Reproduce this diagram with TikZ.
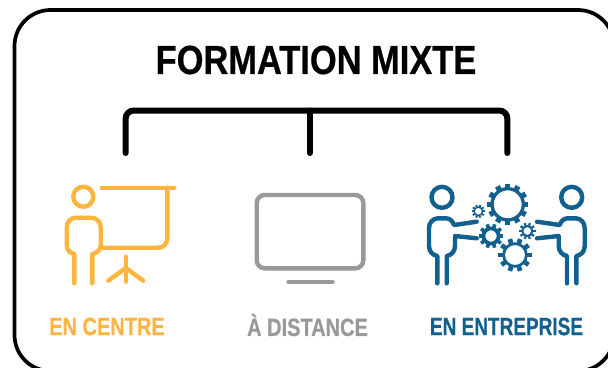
\documentclass[tikz,border=0pt]{standalone}
\usepackage{fontspec}
\setmainfont{Liberation Sans}
\newfontfamily\titlefont[FakeStretch=0.85,BoldFeatures={FakeBold=0.5}]{Liberation Sans}
\newfontfamily\capfont[FakeStretch=0.8,BoldFeatures={FakeBold=0.4}]{Liberation Sans}
\definecolor{centrecol}{HTML}{FDB540}
\definecolor{distcol}{HTML}{999999}
\definecolor{entcol}{HTML}{12608F}
% centre, hole radius, ring radius, tooth radius, tooth count
\newcommand{\cogwheel}[5]{
    \draw[entcol,line width=#3pt-#2pt] (#1) circle ({(#2+#3)/2});
    \foreach \ang in {1,...,#5} {
        \draw[entcol,line width=3.7*#3pt/#5] (#1) ++(\ang*360/#5:#3-0.5) -- ++(\ang*360/#5:#4-#3+0.5);
    }
}
% person of the enterprise icon, head at the origin, arms towards +x
\newcommand{\teammate}{
    \draw (0,197.3) circle (10.5);
    \draw (-4.7,283.3) -- (-4.7,256) to[out=170,in=-90] (-13,246) -- (-13,228)
        to[out=90,in=180] (-4,218.3) -- (4,218.3) to[out=0,in=110] (12,225) -- (34.7,221.7);
    \draw (4.7,283.3) -- (4.7,256) to[out=10,in=-90] (13,246) -- (13,236) -- (34.7,238.3);
}
\begin{document}
\begin{tikzpicture}[x=1pt,y=-1pt,
    framebox/.style={black,line width=3.7pt,rounded corners=36pt},
    bracket/.style={black,line width=6pt,line cap=round,rounded corners=8pt},
    iconline/.style={line width=4.4pt,line cap=round,line join=round},
    bigtitle/.style={font=\titlefont\bfseries\fontsize{40.5}{40}\selectfont,inner sep=0pt},
    caption/.style={font=\capfont\bfseries\fontsize{25}{25}\selectfont,inner sep=0pt}]
    \useasboundingbox (0,0) rectangle (608,367);
    \fill[white] (0,0) rectangle (608,367);
    \draw[framebox] (14.5,10) rectangle (614,371);

    % titles
    \node[bigtitle] (title) at (316,60) {FORMATION MIXTE};
    \node[caption,text=centrecol] (centre) at (107,326.5) {EN CENTRE};
    \node[caption,text=distcol] (distance) at (307.5,325) {À DISTANCE};
    \node[caption,text=entcol,xscale=0.95] (entreprise) at (506.5,326.5) {EN ENTREPRISE};

    % bracket
    \coordinate (bl) at (125.7,153);
    \coordinate (bm) at (309.7,153);
    \coordinate (br) at (507.3,153);
    \draw[bracket] (bl) -- (125.7,110.5) -- (507.3,110.5) -- (br);
    \draw[bracket] (309.7,110.5) -- (bm);

    % en centre
    \begin{scope}[iconline,centrecol]
        \draw (83.3,196.7) circle (10);
        \draw (74.3,283.3) -- (74.3,254) to[out=170,in=-90] (66.7,245) -- (66.7,227)
            to[out=90,in=180] (76,217.7) -- (91,217.7) to[out=0,in=90] (100.7,227) -- (100.7,245)
            to[out=-90,in=10] (92.3,254) -- (92.3,283.3);
        \draw (101.7,187.7) -- (174.3,187.7);
        \draw[rounded corners=9pt] (167.3,187.7) -- (167.3,247.7) -- (103.3,247.7);
        \draw (125.7,256.7) -- (125.7,281.7);
        \draw (108.3,280.7) -- (125.7,268) -- (143.3,280.7);
    \end{scope}

    % a distance
    \draw[iconline,distcol,rounded corners=8pt] (256.7,195) rectangle (363.3,268.3);
    \draw[iconline,distcol,line width=4pt] (288.3,281.7) -- (332.7,281.7);

    % en entreprise
    \begin{scope}[iconline,entcol]
        \begin{scope}[xshift=442pt]
            \teammate
        \end{scope}
        \begin{scope}[xshift=571.7pt,xscale=-1]
            \teammate
        \end{scope}
    \end{scope}
    \cogwheel{507.7,204.3}{14}{17.3}{20.7}{12}
    \cogwheel{478.3,211.3}{3.5}{5}{6.7}{10}
    \cogwheel{491,236}{5.7}{9.5}{12.3}{10}
    \cogwheel{527.3,231}{4}{6}{8.3}{10}
    \cogwheel{515,255}{10}{12.7}{16.7}{10}
\end{tikzpicture}
\end{document}
